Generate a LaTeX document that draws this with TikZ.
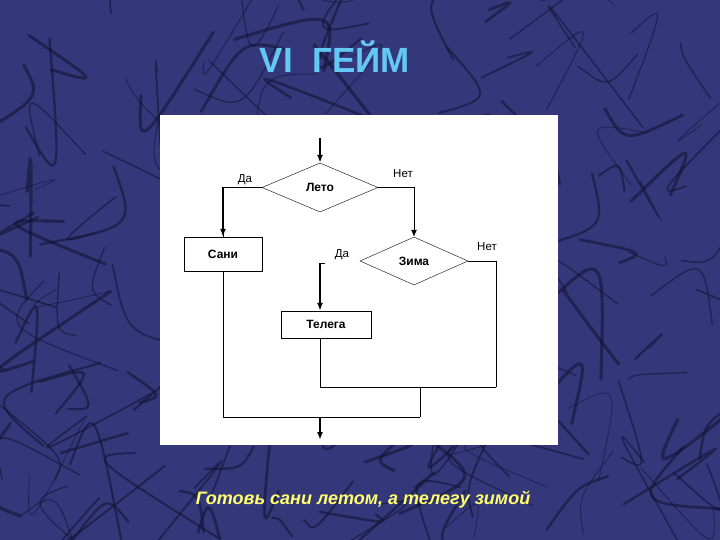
\documentclass[tikz,border=0pt]{standalone}
\usepackage{fontspec}
\setmainfont{Liberation Sans}
\usetikzlibrary{shapes.geometric,arrows.meta}

\definecolor{bgblue}{RGB}{52,56,122}
\definecolor{veins}{RGB}{16,18,48}
\definecolor{titleblue}{RGB}{100,200,245}
\definecolor{captionyellow}{RGB}{255,255,110}

\begin{document}
\begin{tikzpicture}[x=1pt,y=-1pt,
    decision/.style={shape=diamond,draw=black,inner sep=0pt,font=\bfseries\fontsize{12}{14}\selectfont},
    block/.style={shape=rectangle,draw=black,inner sep=0pt,font=\bfseries\fontsize{12}{14}\selectfont},
    lbl/.style={inner sep=1pt,font=\fontsize{11.5}{13}\selectfont},
    line/.style={draw=black,line width=0.8pt},
    arrow/.style={draw=black,line width=1.6pt,-{Latex[length=8pt,width=6pt]}}]
    \useasboundingbox (0,0) rectangle (720,540);

    % background texture
    \fill[bgblue] (0,0) rectangle (720,540);
    \begin{scope}
        \clip (0,0) rectangle (720,540);
        \pgfmathsetseed{23}
        \foreach \i in {1,...,180}{
            \pgfmathsetmacro{\ax}{720*rnd}
            \pgfmathsetmacro{\ay}{540*rnd}
            \pgfmathsetmacro{\bx}{\ax+90*rand}
            \pgfmathsetmacro{\by}{\ay+90*rand}
            \pgfmathsetmacro{\cx}{\ax+70*rand}
            \pgfmathsetmacro{\cy}{\ay+70*rand}
            \pgfmathsetmacro{\lw}{0.8+2.5*rnd}
            \draw[veins,line width=\lw pt,opacity=0.55,line cap=round] (\ax,\ay) .. controls (\cx,\cy) .. (\bx,\by);
        }
    \end{scope}

    % title
    \node[text=titleblue,font=\bfseries\fontsize{35}{40}\selectfont] (title) at (335,57) {VI\ \ ГЕЙМ};

    % panel
    \fill[white] (160,115) rectangle (558,445);

    \node[decision,minimum width=116pt,minimum height=49pt] (L) at (320,187.5) {Лето};
    \node[block,minimum width=78pt,minimum height=34pt] (S) at (223,254) {Сани};
    \node[decision,minimum width=108pt,minimum height=48pt] (Z) at (414,261) {Зима};
    \node[block,minimum width=90pt,minimum height=27pt] (T) at (326,324.5) {Телега};

    \node[lbl] (yes1) at (245,180) {Да};
    \node[lbl] (no1) at (403,174) {Нет};
    \node[lbl] (yes2) at (342,255) {Да};
    \node[lbl] (no2) at (487,247) {Нет};

    \coordinate (in) at (320,138);
    \coordinate (zd) at (320,263);
    \coordinate (zn) at (496,387);
    \coordinate (m) at (420,387);
    \coordinate (end) at (420,417);
    \coordinate (out) at (320,440);

    \draw[arrow] (in) -- (L.north);
    \draw[line] (L.west) -| (S.north);
    \draw[arrow] (S.north |- L.west) -- (S.north);
    \draw[line,-{Latex[length=7pt,width=6pt]}] (L.east) -| (Z.north);
    \draw[line] (zd) -- ++(5,0);
    \draw[arrow] (zd) -- (zd |- T.north);
    \draw[line] (Z.east) -| (zn);
    \draw[line] (T.south -| zd) |- (zn);
    \draw[line] (m) -- (end);
    \draw[line] (S.south) |- (end);
    \draw[arrow] (out |- end) -- (out);

    % caption
    \node[text=captionyellow,font=\bfseries\itshape\fontsize{18}{21}\selectfont] (caption) at (363,500) {Готовь сани летом, а телегу зимой};
\end{tikzpicture}
\end{document}
